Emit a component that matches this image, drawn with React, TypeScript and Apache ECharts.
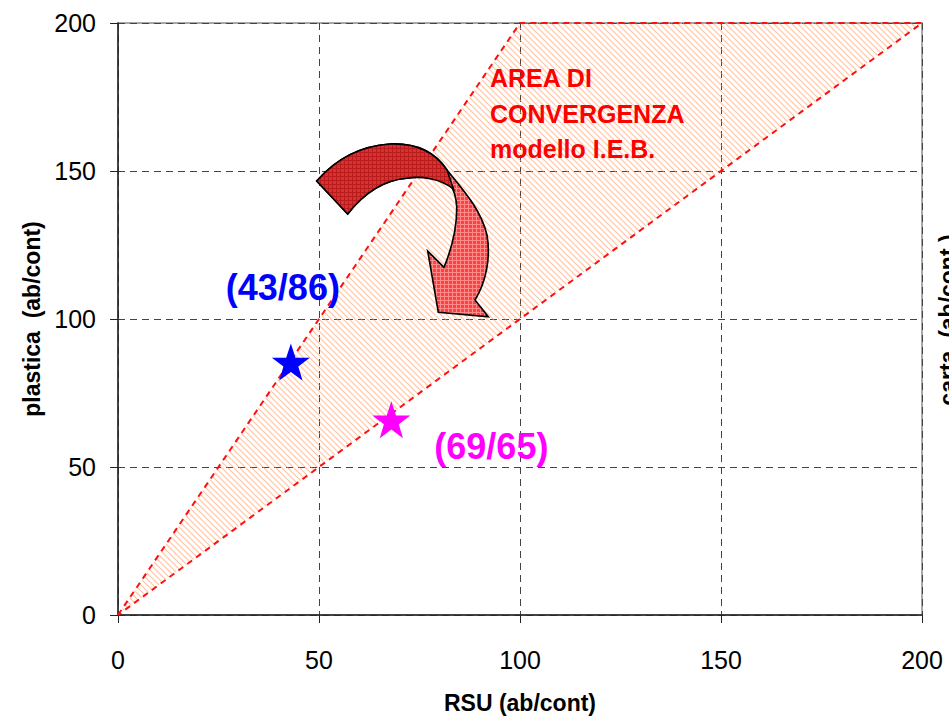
import React, { useEffect, useRef } from 'react';
import * as echarts from 'echarts';

// ---- data ----
const axisMin = 0;
const axisMax = 200;
const tickStep = 50;
const regionX = [0, 100, 200];
const regionY = [0, 200, 200];
const bluePoint = [43, 85.5];
const magentaPoint = [68, 66];
const blueLabel = '(43/86)';
const magentaLabel = '(69/65)';
const areaLabelLines = ['AREA DI', 'CONVERGENZA', 'modello I.E.B.'];
const xAxisTitle = 'RSU (ab/cont)';
const yAxisTitle = 'plastica  (ab/cont)';
const rightAxisTitle = 'carta  (ab/cont.)';

const STAR =
  'path://M50,0 L61.8,35.1 L98.1,35.1 L68.8,56.7 L79.4,91 L50,70 L20.6,91 L31.2,56.7 L1.9,35.1 L38.2,35.1 Z';

const ARROW_FULL =
  'M316.7,181 C335,160 360,146 390,144 C415,143 435,152 447,170 C465,192 481,210 487,235 C491,258 486,282 475,300 L488.3,316.7 L438.3,312.3 L427.7,251 L444,267.3 C452,248 457,226 456.7,206.7 C456,195 453,188 449.3,182.7 C438,176 420,176 406.7,178.3 C385,180 365,192 347.7,214 Z';
const ARROW_BAND =
  'M316.7,181 C335,160 360,146 390,144 C415,143 435,152 447,170 L453.5,189 C440,178 420,176 406.7,178.3 C385,180 365,192 347.7,214 Z';

let registered = false;
function registerShapes() {
  if (registered) return;
  registered = true;
  echarts.graphic.registerShape('arrowFull', echarts.graphic.extendPath(ARROW_FULL, {}) as any);
  echarts.graphic.registerShape('arrowBand', echarts.graphic.extendPath(ARROW_BAND, {}) as any);
}

function makePattern(w: number, h: number, draw: (ctx: CanvasRenderingContext2D) => void): any {
  const c = document.createElement('canvas');
  c.width = w;
  c.height = h;
  const ctx = c.getContext('2d') as CanvasRenderingContext2D;
  draw(ctx);
  return { image: c.toDataURL(), repeat: 'repeat', imageWidth: w, imageHeight: h };
}

export default function App() {
  const ref = useRef<HTMLDivElement>(null);

  useEffect(() => {
    if (!ref.current) return;
    registerShapes();
    const chart = echarts.init(ref.current, undefined, { renderer: 'svg' });

    const hatch = makePattern(6, 6, (ctx) => {
      ctx.strokeStyle = 'rgba(250,155,105,0.6)';
      ctx.lineWidth = 1.1;
      ctx.beginPath();
      ctx.moveTo(-1, -1);
      ctx.lineTo(7, 7);
      ctx.moveTo(-1, 5);
      ctx.lineTo(1, 7);
      ctx.moveTo(5, -1);
      ctx.lineTo(7, 1);
      ctx.stroke();
    });
    const gridDark = makePattern(4, 4, (ctx) => {
      ctx.fillStyle = '#dc3030';
      ctx.fillRect(0, 0, 4, 4);
      ctx.fillStyle = '#b81c1c';
      ctx.fillRect(0, 0, 4, 1);
      ctx.fillRect(0, 0, 1, 4);
    });
    const gridLight = makePattern(4, 4, (ctx) => {
      ctx.fillStyle = '#ff4040';
      ctx.fillRect(0, 0, 4, 4);
      ctx.fillStyle = '#ff8a8a';
      ctx.fillRect(0, 0, 4, 1);
      ctx.fillRect(0, 0, 1, 4);
    });

    const splitLine = { show: true, lineStyle: { color: '#444', width: 1, type: [7, 5] as any } };
    const labelFont = { fontFamily: 'Liberation Sans, Arial, sans-serif', fontSize: 25, color: '#000' };
    const titleFont = { fontFamily: 'Liberation Sans, Arial, sans-serif', fontSize: 23, fontWeight: 'bold' as const, color: '#000' };

    const option: any = {
      animation: false,
      backgroundColor: '#fff',
      grid: { left: 118, right: 27, top: 23, bottom: 102, show: true, borderColor: '#8a8a8a', borderWidth: 1.5, backgroundColor: 'transparent' },
      xAxis: {
        type: 'value',
        min: axisMin,
        max: axisMax,
        interval: tickStep,
        name: xAxisTitle,
        nameLocation: 'middle',
        nameGap: 76,
        nameTextStyle: titleFont,
        axisLine: { show: true, onZero: false, lineStyle: { color: '#222', width: 1.5 } },
        axisTick: { show: true, length: 8, lineStyle: { color: '#222' } },
        axisLabel: { ...labelFont, margin: 32, lineHeight: 25 },
        splitLine,
      },
      yAxis: {
        type: 'value',
        min: axisMin,
        max: axisMax,
        interval: tickStep,
        name: yAxisTitle,
        nameLocation: 'middle',
        nameGap: 74,
        nameRotate: 90,
        nameTextStyle: titleFont,
        axisLine: { show: true, onZero: false, lineStyle: { color: '#222', width: 1.5 } },
        axisTick: { show: true, length: 8, lineStyle: { color: '#222' } },
        axisLabel: { ...labelFont, margin: 22 },
        splitLine,
      },
      series: [
        {
          type: 'custom',
          z: 2,
          data: [[regionX[0], regionY[0]]],
          renderItem: (params: any, api: any) => {
            const pts = regionX.map((x, i) => api.coord([x, regionY[i]]));
            return {
              type: 'polygon',
              shape: { points: pts },
              style: { fill: hatch, stroke: '#ff1010', lineWidth: 2, lineDash: [6, 5] },
            };
          },
        },
        {
          type: 'scatter',
          z: 5,
          symbol: STAR,
          symbolSize: [38, 37],
          itemStyle: { color: '#0000ff', opacity: 1 },
          data: [bluePoint],
          label: {
            show: true,
            position: 'inside',
            offset: [-8, -74],
            formatter: blueLabel,
            color: '#0000ff',
            fontSize: 36,
            fontWeight: 'bold',
            fontFamily: 'Liberation Sans, Arial, sans-serif',
          },
        },
        {
          type: 'scatter',
          z: 5,
          symbol: STAR,
          symbolSize: [38, 37],
          itemStyle: { color: '#ff00ff', opacity: 1 },
          data: [magentaPoint],
          label: {
            show: true,
            position: 'inside',
            offset: [100, 27],
            formatter: magentaLabel,
            color: '#ff00ff',
            fontSize: 36,
            fontWeight: 'bold',
            fontFamily: 'Liberation Sans, Arial, sans-serif',
          },
        },
      ],
      graphic: [
        {
          type: 'arrowFull',
          x: 0,
          y: 0,
          z: 50,
          style: { fill: gridLight, stroke: '#000', lineWidth: 1.6 },
        },
        {
          type: 'arrowBand',
          x: 0,
          y: 0,
          z: 51,
          style: { fill: gridDark, stroke: '#000', lineWidth: 1.6 },
        },
        ...areaLabelLines.map((t, i) => ({
          type: 'text',
          x: 490,
          y: 78 + i * 35.5,
          z: 60,
          style: {
            text: t,
            fill: '#ff0000',
            font: 'bold 25px "Liberation Sans", Arial, sans-serif',
            textAlign: 'left',
            textVerticalAlign: 'middle',
          },
        })),
        {
          type: 'text',
          x: 948,
          y: 320,
          rotation: Math.PI / 2,
          z: 60,
          style: {
            text: rightAxisTitle,
            fill: '#000',
            font: 'bold 23px "Liberation Sans", Arial, sans-serif',
            textAlign: 'center',
            textVerticalAlign: 'middle',
          },
        },
      ],
    };

    chart.setOption(option);
    return () => chart.dispose();
  }, []);

  return (
    <div
      ref={ref}
      style={{ position: 'fixed', left: 0, top: 0, width: 949, height: 719, background: '#fff' }}
    />
  );
}
